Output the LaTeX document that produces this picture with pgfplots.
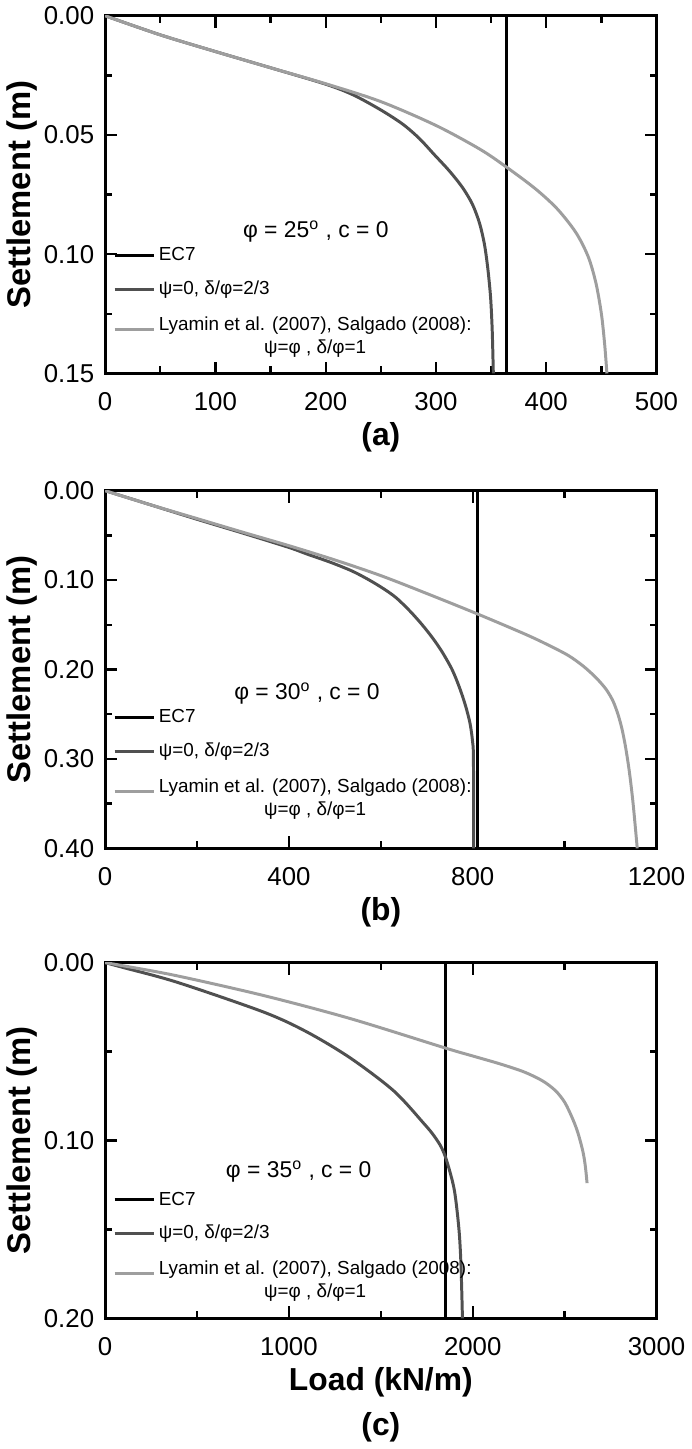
\documentclass[border=0pt]{standalone}
\usepackage{pgfplots}
\pgfplotsset{compat=1.18}
\usepackage{fontspec}
\setmainfont{Liberation Sans}

\definecolor{darkcurve}{RGB}{80,80,80}
\definecolor{lightcurve}{RGB}{158,158,158}

\tikzset{note/.style={font=\fontsize{11.5}{13}\selectfont}}

\pgfplotsset{
  panel/.style={
    scale only axis,
    width=277.5pt,
    y dir=reverse,
    xmin=0, ymin=0,
    tick align=inside,
    tick pos=both,
    xticklabel pos=left,
    yticklabel pos=left,
    minor tick num=1,
    major tick length=6pt,
    minor tick length=3.5pt,
    axis line style={line width=1.5pt},
    every tick/.style={black, line width=1.2pt},
    /pgf/number format/assume math mode=true,
    tick label style={font=\fontsize{13}{15}\selectfont},
    xticklabel style={/pgf/number format/1000 sep={}, yshift=-6pt},
    yticklabel style={/pgf/number format/.cd, fixed, fixed zerofill, precision=2,
      /tikz/xshift=-2pt},
    ylabel={Settlement (m)},
    ylabel shift=-3.5pt,
    ylabel style={font=\bfseries\fontsize{16.5}{18}\selectfont},
    xlabel style={font=\bfseries\fontsize{16}{18}\selectfont,
      at={(axis description cs:0.5,0)}, anchor=center, yshift=-32pt},
    clip mode=individual,
    legend cell align=left,
    legend image code/.code={\draw[##1] (0pt,0pt) -- (20pt,0pt);},
    legend style={draw=none, fill=none, anchor=north west,
      font=\fontsize{9.5}{11.5}\selectfont, row sep=5.5pt,
      nodes={inner sep=1.5pt}},
  },
  ec7/.style={black, line width=1.5pt},
  psi0/.style={darkcurve, line width=1.5pt},
  lyamin/.style={lightcurve, line width=1.5pt},
}

\begin{document}
\begin{tikzpicture}

% (a) phi = 25
\begin{axis}[panel, name=a, at={(0,0)}, anchor=north west,
  height=180pt, xmax=500, ymax=0.15,
  xtick={0,100,...,500}, ytick={0,0.05,0.10,0.15},
  xlabel={(a)},
  legend style={at={(axis description cs:0.003,0.372)}},
]
\addplot[ec7] coordinates {(364,0) (364,0.15)};
\addplot[psi0, smooth] coordinates {
(0,0) (50,0.0080) (100,0.0150) (150,0.0218) (200,0.0287) (225,0.0332)
(250,0.0395) (270,0.0455) (285,0.0515) (298,0.0580) (312,0.0650)
(324,0.0720) (333,0.0790) (339.5,0.0870) (344,0.0960) (347,0.1060)
(349.5,0.1180) (351,0.1320) (352,0.15)};
\addplot[lyamin, smooth] coordinates {
(0,0) (50,0.0080) (100,0.0150) (150,0.0218) (200,0.0285) (250,0.0360)
(300,0.0460) (340,0.0560) (364,0.0635) (390,0.0725) (410,0.0810)
(427,0.0910) (438,0.1010) (445,0.1120) (450,0.1250) (453,0.1380) (455,0.15)};
\legend{EC7, {ψ=0, δ/φ=2/3},
  {\begin{tabular}{@{}c@{}}Lyamin et al. (2007), Salgado (2008):\\ψ=φ , δ/φ=1\end{tabular}}}
\node[note] at (axis description cs:0.382,0.397) {φ = 25\textsuperscript{o} , c = 0};
\end{axis}

% (b) phi = 30
\begin{axis}[panel, name=b, at={(0,-239pt)}, anchor=north west,
  height=180pt, xmax=1200, ymax=0.40,
  xtick={0,400,800,1200}, ytick={0,0.1,0.2,0.3,0.4},
  xlabel={(b)},
  legend style={at={(axis description cs:0.003,0.408)}},
]
\addplot[ec7] coordinates {(811,0) (811,0.40)};
\addplot[psi0, smooth] coordinates {
(0,0) (100,0.0160) (200,0.0320) (300,0.0475) (400,0.0635) (440,0.0710)
(490,0.0800) (538,0.0900) (575,0.1000) (607,0.1100) (634,0.1200)
(664,0.1350) (690,0.1500) (713,0.1650) (733,0.1800) (755,0.2000)
(771,0.2200) (784,0.2400) (794,0.2600) (799.5,0.2800) (801.5,0.3000)
(802,0.40)};
\addplot[lyamin, smooth] coordinates {
(0,0) (100,0.0160) (200,0.0312) (300,0.0465) (400,0.0615) (500,0.0775)
(600,0.0950) (700,0.1150) (811,0.1380) (912,0.1600) (960,0.1715)
(1007,0.1840) (1040,0.1960) (1068,0.2090) (1090,0.2220) (1105,0.2350)
(1116,0.2500) (1125,0.2670) (1133,0.2880) (1141,0.3150) (1149,0.3500)
(1158,0.40)};
\legend{EC7, {ψ=0, δ/φ=2/3},
  {\begin{tabular}{@{}c@{}}Lyamin et al. (2007), Salgado (2008):\\ψ=φ , δ/φ=1\end{tabular}}}
\node[note] at (axis description cs:0.366,0.433) {φ = 30\textsuperscript{o} , c = 0};
\end{axis}

% (c) phi = 35
\begin{axis}[panel, name=c, at={(0,-476.5pt)}, anchor=north west,
  height=179pt, xmax=3000, ymax=0.20,
  xtick={0,1000,2000,3000}, ytick={0,0.1,0.2},
  xlabel={Load (kN/m)},
  legend style={at={(axis description cs:0.003,0.376)}},
]
\addplot[ec7] coordinates {(1850,0) (1850,0.20)};
\addplot[psi0, smooth] coordinates {
(0,0) (100,0.0028) (390,0.011) (862,0.0278) (1098,0.039) (1335,0.0537)
(1571,0.0722) (1736,0.0907) (1790,0.0975) (1830,0.104) (1860,0.112)
(1900,0.128) (1925,0.150) (1936,0.170) (1944,0.20)};
\addplot[lyamin, smooth] coordinates {
(0,0) (100,0.0018) (390,0.0074) (862,0.0185) (1335,0.0315) (1850,0.048)
(2000,0.0525) (2150,0.0570) (2280,0.0615) (2380,0.0665) (2450,0.0720)
(2500,0.0785) (2540,0.0870) (2570,0.0950) (2598,0.1056) (2612,0.1140)
(2622,0.124)};
\legend{EC7, {ψ=0, δ/φ=2/3},
  {\begin{tabular}{@{}c@{}}Lyamin et al. (2007), Salgado (2008):\\ψ=φ , δ/φ=1\end{tabular}}}
\node[note] at (axis description cs:0.351,0.413) {φ = 35\textsuperscript{o} , c = 0};
\node[font=\bfseries\fontsize{16}{18}\selectfont] at (axis description cs:0.5,0) [yshift=-55pt] {(c)};
\end{axis}

\end{tikzpicture}
\end{document}
